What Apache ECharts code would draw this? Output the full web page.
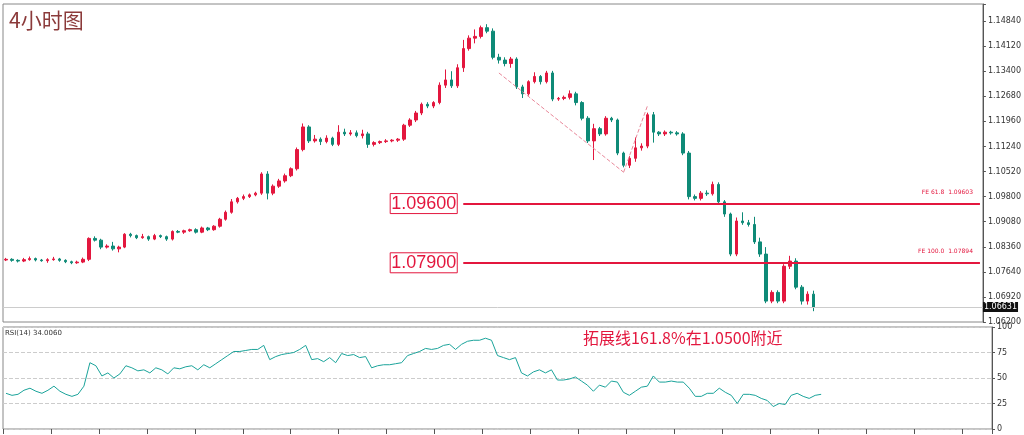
<!DOCTYPE html>
<html>
<head>
<meta charset="utf-8">
<script src="https://cdn.jsdelivr.net/npm/echarts@6/dist/echarts.min.js"></script>
<style>html,body{margin:0;padding:0;background:#fff;}#main{width:1024px;height:435px;}</style>
</head>
<body>
<div id="main"></div>
<script>
// closing prices per 4h bar
var closes = [
  1.0800,1.0797,1.0795,1.0799,1.0802,1.0798,1.0796,1.0799,1.0801,1.0797,1.0793,1.0790,1.0792,1.0800,
  1.0860,1.0855,1.0835,1.0838,1.0830,1.0835,
  1.0872,1.0868,1.0862,1.0865,1.0858,1.0868,1.0865,1.0858,
  1.0880,1.0878,1.0882,1.0885,1.0878,1.0890,1.0885,1.0895,
  1.0915,1.0935,1.0965,1.0975,1.0980,1.0985,1.0990,
  1.1045,1.0990,1.1010,1.1025,1.1040,1.1060,
  1.1115,1.1180,1.1140,1.1145,1.1138,1.1148,1.1130,
  1.1165,1.1160,1.1163,1.1155,1.1160,
  1.1130,1.1135,1.1138,1.1140,1.1142,1.1145,
  1.1185,1.1200,1.1220,1.1245,1.1240,1.1250,
  1.1300,1.1315,1.1298,1.1350,1.1405,1.1435,1.1440,1.1465,1.1455,
  1.1380,1.1372,1.1362,1.1375,1.1295,1.1275,
  1.1310,1.1325,1.1310,1.1335,
  1.1260,1.1262,1.1265,1.1275,1.1250,1.1205,
  1.1140,1.1175,1.1160,1.1205,1.1200,
  1.1105,1.1070,1.1090,1.1120,1.1125,
  1.1215,1.1165,1.1160,1.1165,1.1163,1.1160,
  1.1105,1.0980,1.0975,1.0990,1.0988,1.1015,1.0965,1.0930,
  1.0815,1.0910,1.0905,1.0900,1.0850,1.0815,
  1.0680,1.0705,1.0680,1.0780,1.0795,1.0720,1.0680,1.0700,1.0663
];
var firstOpen = 1.0798;
// upper / lower wick lengths in pips
var wickUp = [
  4,3,3,5,6,3,3,4,6,3,3,3,4,5, 3,6,4,5,12,4, 3,4,3,8,3,5,3,3, 3,4,3,3,4,4,3,3,
  4,5,8,4,6,4,4, 5,8,5,6,6,4, 6,10,5,12,5,8,4, 20,10,8,7,12, 6,4,3,5,3,3,
  4,5,6,5,6,4, 8,30,25,10,25,8,20,6,10, 8,10,8,6,5,6, 4,12,4,6, 6,4,5,10,6,4,
  6,14,5,6,4, 4,4,6,30,8, 6,8,3,5,4,5, 5,6,6,6,8,8,6,5, 4,10,25,8,22,12,
  20,6,6,6,15,8,6,8,10
];
var wickDn = [
  3,4,4,3,3,4,3,6,3,4,4,4,3,3, 5,4,6,4,5,10, 3,5,4,3,5,3,4,5, 4,3,5,3,4,3,4,3,
  4,4,4,5,5,4,4, 5,18,6,5,5,4, 5,5,6,5,10,5,5, 5,6,5,5,8, 10,6,4,4,4,5,
  5,5,6,6,6,6, 5,8,6,6,12,6,15,6,6, 6,10,8,12,6,12, 5,5,8,5, 6,5,5,6,8,6,
  6,55,6,5,6, 6,6,8,10,8, 6,30,6,6,5,5, 6,8,6,6,6,5,6,8, 6,6,6,6,6,8,
  6,6,6,6,8,6,10,10,12
];
var rsi = [
  35,33,34,38,40,37,35,38,42,37,34,32,34,42, 65,62,52,55,50,54, 62,60,57,58,55,60,58,54,
  60,59,61,62,58,63,60,64, 68,72,76,76,77,78,78, 82,68,71,73,74,75, 78,82,68,69,66,70,65,
  74,72,73,70,71, 60,62,63,63,64,65, 72,74,76,79,78,79, 82,83,78,83,86,87,87,89,87,
  72,70,68,70,55,52, 56,58,55,58, 48,48,49,51,47,43, 37,43,41,47,46, 36,33,37,41,42,
  52,46,46,47,46,46, 40,32,32,35,35,40,36,33, 25,34,34,33,30,28, 22,25,24,33,35,32,30,33,34
];
var fibLevels = [1.0960, 1.0790];
var fibTags = ['FE 61.8  1.09603', 'FE 100.0  1.07894'];
var lastPrice = 1.06631;
var rsiLast = '34.0060';
var totalSlots = 165;

var UP = '#e3173e', DN = '#0e8a77';
var cats = [], ohlc = [];
for (var i = 0; i < totalSlots; i++) cats.push(i);
var prev = firstOpen;
for (var i = 0; i < closes.length; i++) {
  var o = prev, c = closes[i];
  var hi = Math.max(o, c) + wickUp[i] * 0.0001;
  var lo = Math.min(o, c) - wickDn[i] * 0.0001;
  ohlc.push([o, c, lo, hi]);
  prev = c;
}

var fibLines = fibLevels.map(function (v) {
  return [
    { coord: [77, v], label: { show: true, position: 'start', formatter: v.toFixed(5),
      color: UP, fontSize: 18, fontFamily: 'Liberation Sans', borderColor: UP, borderWidth: 1,
      padding: [1, 1], distance: 6 } },
    { coord: [totalSlots - 1, v] }
  ];
});
var dashLines = [
  [{ coord: [83, 1.1335] }, { coord: [104, 1.1050] }],
  [{ coord: [104, 1.1050] }, { coord: [108, 1.1240] }]
];

var chart = echarts.init(document.getElementById('main'));
chart.setOption({
  animation: false,
  grid: [
    { left: 3, right: 32, top: 4, height: 318, show: true, borderColor: '#888', borderWidth: 1 },
    { left: 3, right: 32, top: 327, height: 102, show: true, borderColor: '#888', borderWidth: 1 }
  ],
  xAxis: [
    { type: 'category', data: cats, gridIndex: 0, boundaryGap: true,
      axisLine: { show: false }, axisTick: { show: false }, axisLabel: { show: false } },
    { type: 'category', data: cats, gridIndex: 1, boundaryGap: true,
      axisLine: { show: false }, axisTick: { show: true, interval: 7, lineStyle: { color: '#555' } },
      axisLabel: { show: false } }
  ],
  yAxis: [
    { type: 'value', gridIndex: 0, position: 'right', min: 1.0620, max: 1.1533, interval: 0.0072,
      splitLine: { show: false }, axisLine: { show: true, lineStyle: { color: '#555' } },
      axisTick: { show: true, length: 3 },
      axisLabel: { fontSize: 8, color: '#333', margin: 5, fontFamily: 'DejaVu Sans',
        formatter: function (v) { return v > 1.1490 ? '' : v.toFixed(5); } } },
    { type: 'value', gridIndex: 1, position: 'right', min: 0, max: 100, interval: 25,
      splitLine: { show: true, lineStyle: { color: '#ccc', type: 'dashed' } },
      axisLine: { show: true, lineStyle: { color: '#555' } }, axisTick: { show: true, length: 3 },
      axisLabel: { fontSize: 8, color: '#333', margin: 5, fontFamily: 'DejaVu Sans' } }
  ],
  series: [
    { type: 'candlestick', xAxisIndex: 0, yAxisIndex: 0, data: ohlc, barWidth: 3,
      itemStyle: { color: UP, color0: DN, borderColor: UP, borderColor0: DN, borderWidth: 1 },
      markLine: { silent: true, symbol: 'none', animation: false,
        data: fibLines.concat(
          dashLines.map(function (d) {
            return [Object.assign({ lineStyle: { color: '#e8889a', type: 'dashed', width: 1 }, label: { show: false } }, d[0]), d[1]];
          }),
          [[{ yAxis: lastPrice, x: 3, lineStyle: { color: '#ccc', width: 1, type: 'solid' }, label: { show: false } }, { yAxis: lastPrice, x: 992 }]]
        ),
        lineStyle: { color: UP, width: 2, type: 'solid' } },
      markPoint: { silent: true, symbol: 'rect', symbolSize: 0,
        data: fibLevels.map(function (v, k) {
          return { coord: [totalSlots - 1, v], label: { show: true, formatter: fibTags[k], position: 'insideBottomRight',
            offset: [-2, -3], color: UP, fontSize: 6, fontFamily: 'DejaVu Sans', align: 'right' } };
        }).concat([{ coord: [totalSlots - 1, lastPrice], label: { show: true, formatter: lastPrice.toFixed(5),
          position: 'right', distance: 0, offset: [3, 0], backgroundColor: '#111', color: '#fff', fontSize: 8,
          padding: [1, 1], fontFamily: 'DejaVu Sans' } }]) } },
    { type: 'line', xAxisIndex: 1, yAxisIndex: 1, data: rsi, symbol: 'none',
      lineStyle: { color: '#1aa39a', width: 1 } }
  ],
  graphic: [
    { type: 'text', left: 9, top: 10, style: { text: '4小时图', fill: '#8b3a3a', fontSize: 21, fontFamily: 'Noto Sans CJK SC' } },
    { type: 'text', left: 5, top: 330, style: { text: 'RSI(14) ' + rsiLast, fill: '#333', fontSize: 7, fontFamily: 'DejaVu Sans' } },
    { type: 'text', left: 583, top: 330, style: { text: '拓展线161.8%在1.0500附近', fill: '#e3173e', fontSize: 16, fontFamily: 'Noto Sans CJK SC' } }
  ]
});
</script>
</body>
</html>
